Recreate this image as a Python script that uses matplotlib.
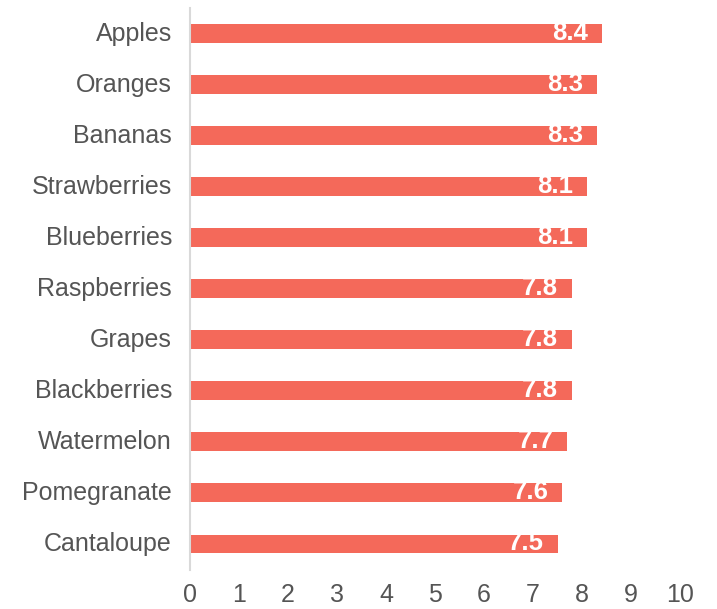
import matplotlib
matplotlib.use("Agg")
import matplotlib.pyplot as plt
import matplotlib.transforms as mtransforms

fruits = ["Apples", "Oranges", "Bananas", "Strawberries", "Blueberries",
          "Raspberries", "Grapes", "Blackberries", "Watermelon",
          "Pomegranate", "Cantaloupe"]
scores = [8.4, 8.3, 8.3, 8.1, 8.1, 7.8, 7.8, 7.8, 7.7, 7.6, 7.5]
xticks = [0, 1, 2, 3, 4, 5, 6, 7, 8, 9, 10]

plt.rcParams['font.family'] = ['Liberation Sans', 'DejaVu Sans']

fig = plt.figure(figsize=(7.17, 6.09), dpi=100)
ax = fig.add_axes([190/717, 1-569.5/609, 490/717, (569.5-8)/609])

ypos = list(range(len(fruits)))
bars = ax.barh(ypos, scores, height=0.37, color="#F4695A")
ax.set_xlim(0, 10)
ax.set_ylim(len(fruits)-0.5, -0.5)
ax.set_yticks(ypos)
ax.set_yticklabels(fruits)
ax.set_xticks(xticks)
ax.set_xticklabels([str(t) for t in xticks])

for y, v in zip(ypos, scores):
    ax.annotate(f"{v}", xy=(v, y), xytext=(-10, 0.5), textcoords="offset points",
                ha="right", va="center", color="white", fontsize=18.5,
                fontweight="bold", clip_on=False)

for s in ["top", "right", "bottom"]:
    ax.spines[s].set_visible(False)
ax.spines["left"].set_color("#d9d9d9")
ax.spines["left"].set_linewidth(1.5)
ax.tick_params(axis="both", length=0, labelsize=18, labelcolor="#555555")
ax.tick_params(axis="y", pad=13)
ax.tick_params(axis="x", pad=10)

shift = mtransforms.ScaledTranslation(0, 2/100, fig.dpi_scale_trans)
for lbl in ax.get_yticklabels():
    lbl.set_transform(lbl.get_transform() + shift)

fig.savefig("out.png", dpi=100)
